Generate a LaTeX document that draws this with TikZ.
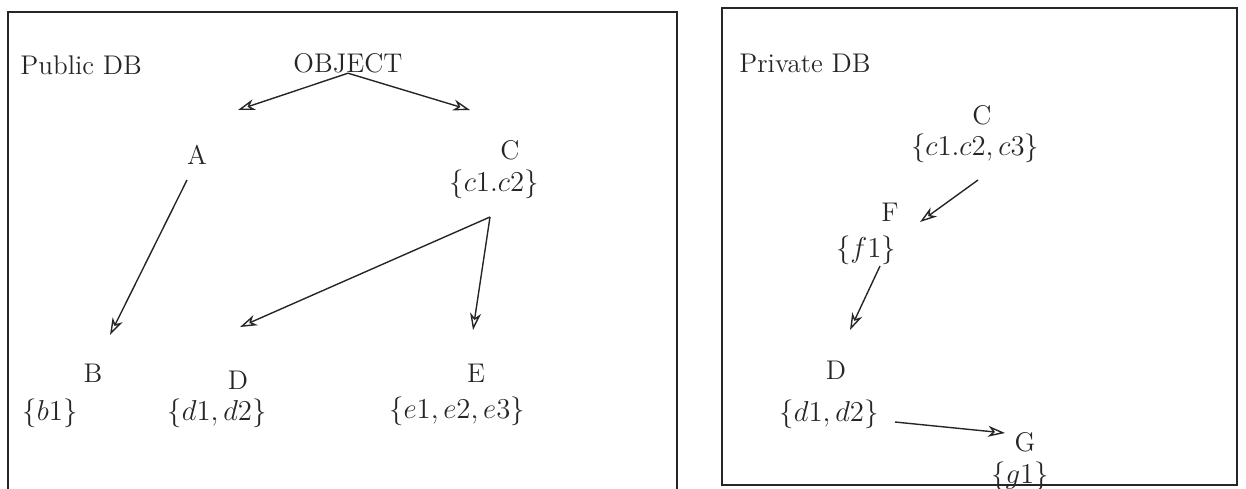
\documentclass[tikz,border=0pt]{standalone}
\usepackage{tikz}
\usetikzlibrary{arrows.meta,calc}
\definecolor{dbInk}{HTML}{262626}
\tikzset{
  frame/.style ={dbInk,line width=0.6pt},
  lbl/.style   ={inner sep=0pt,text=dbInk,font=\fontsize{13.5}{16}\selectfont},
  flow/.style  ={-{Stealth[length=8.5pt,width=5.5pt,inset=2.5pt,open]},dbInk,line width=0.7pt},
}
\begin{document}
\begin{tikzpicture}[x=0.5pt,y=-0.5pt]
\useasboundingbox (0,0) rectangle (1246,488);
%% the two frames
\draw[frame] (8,500) -- (8,12) -- (677,12) -- (677,500);
\draw[frame] (722,8) rectangle (1237,485);

%% public database
\node[lbl,anchor=west] (pub) at (20,65) {Public DB};
\node[lbl] (obj) at (348,63) {OBJECT};
\node[lbl] (a)   at (197,155) {A};
\node[lbl] (c)   at (510,150) {C};
\node[lbl] (cs)  at (494,184) {$\{c1.c2\}$};
\node[lbl] (b)   at (93,373) {B};
\node[lbl] (bs)  at (50,413) {$\{b1\}$};
\node[lbl] (d)   at (238,380) {D};
\node[lbl] (ds)  at (217,413) {$\{d1,d2\}$};
\node[lbl] (e)   at (476,373) {E};
\node[lbl] (es)  at (457,411) {$\{e1,e2,e3\}$};

\coordinate (a-in) at (238,110);
\coordinate (c-in) at (470,110);
\draw[flow] (obj.south) -- (a-in);
\draw[flow] (obj.south) -- (c-in);
\draw[flow] ($(a)+(-10,25)$) -- ($(b)+(17,-38)$);
\draw[flow] ($(cs)+(-4,33)$) -- ($(d)+(2,-53)$);
\draw[flow] ($(cs)+(-4,33)$) -- ($(e)+(-3,-43)$);

%% private database
\node[lbl,anchor=west] (priv) at (739,63) {Private DB};
\node[lbl] (pc)  at (982,115) {C};
\node[lbl] (pcs) at (975,148) {$\{c1.c2,c3\}$};
\node[lbl] (pf)  at (890,212) {F};
\node[lbl] (pfs) at (866,250) {$\{f1\}$};
\node[lbl] (pd)  at (836,370) {D};
\node[lbl] (pds) at (829,414) {$\{d1,d2\}$};
\node[lbl] (pg)  at (1025,442) {G};
\node[lbl] (pgs) at (1020,476) {$\{g1\}$};

\draw[flow] ($(pcs)+(3,32)$) -- ($(pf)+(30,10)$);
\draw[flow] ($(pfs)+(14,16)$) -- ($(pd)+(14,-40)$);
\draw[flow] ($(pds)+(66,8)$) -- ($(pg)+(-20,-9)$);
\end{tikzpicture}
\end{document}
